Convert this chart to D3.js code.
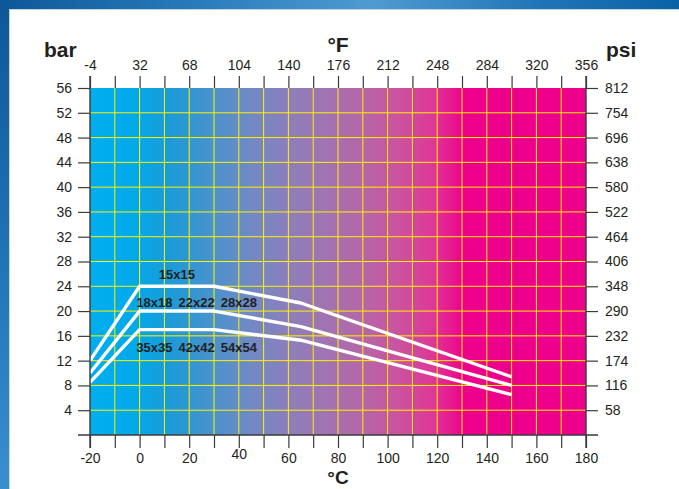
<!DOCTYPE html>
<html>
<head>
<meta charset="utf-8">
<script src="https://cdn.jsdelivr.net/npm/d3@7"></script>
<style>
  html, body { margin: 0; padding: 0; background: #fff; }
  svg { display: block; }
  text { font-family: "Liberation Sans", Arial, Helvetica, sans-serif; fill: #231f20; }
</style>
</head>
<body>
<svg id="chart" width="679" height="489"></svg>
<script>
// ---- data ----
const barTicks = [4, 8, 12, 16, 20, 24, 28, 32, 36, 40, 44, 48, 52, 56];
const psiTicks = [58, 116, 174, 232, 290, 348, 406, 464, 522, 580, 638, 696, 754, 812];
const celsiusTicks = [-20, -10, 0, 10, 20, 30, 40, 50, 60, 70, 80, 90, 100, 110, 120, 130, 140, 150, 160, 170, 180];
const celsiusLabels = [-20, 0, 20, 40, 60, 80, 100, 120, 140, 160, 180];
const fahrenheitTicks = [-4, 14, 32, 50, 68, 86, 104, 122, 140, 158, 176, 194, 212, 230, 248, 266, 284, 302, 320, 338, 356];
const fahrenheitLabels = [-4, 32, 68, 104, 140, 176, 212, 248, 284, 320, 356];

// curve temperatures (°C) and pressures (bar)
const curveTemps = [-20, 0, 30, 65, 150];
const curve15 = [12, 24, 24, 21.3, 9.4];
const curve18to28 = [10, 20, 20, 17.5, 8];
const curve35to54 = [8.5, 17, 17, 15.3, 6.5];

// size labels (°C, bar)
const labelTexts = ["15x15", "18x18", "22x22", "28x28", "35x35", "42x42", "54x54"];
const labelTemps = [15, 6, 23, 40, 6, 23, 40];
const labelBars = [25.2, 20.7, 20.7, 20.7, 13.4, 13.4, 13.4];

// ---- layout ----
const svg = d3.select("#chart");
const W = 679, H = 489;
const x = d3.scaleLinear().domain([-20, 180]).range([90, 586]);
const y = d3.scaleLinear().domain([0, 56]).range([435, 88]);
const xF = d3.scaleLinear().domain([-4, 356]).range([90, 586]);
const yP = d3.scaleLinear().domain([0, 812]).range([435, 88]);

const defs = svg.append("defs");
// frame gradients
const gTop = defs.append("linearGradient").attr("id", "frameTop").attr("x1", 0).attr("x2", 1).attr("y1", 0).attr("y2", 0);
[[0, "#0d5799"], [0.3, "#2a7dbd"], [0.55, "#4f9bd1"], [0.8, "#1f74b6"], [1, "#0a62a6"]]
  .forEach(([o, c]) => gTop.append("stop").attr("offset", o).attr("stop-color", c));
const gLeft = defs.append("linearGradient").attr("id", "frameLeft").attr("x1", 0).attr("x2", 0).attr("y1", 0).attr("y2", 1);
[[0, "#0d5799"], [0.5, "#1f72b4"], [1, "#3a8fcf"]]
  .forEach(([o, c]) => gLeft.append("stop").attr("offset", o).attr("stop-color", c));

// plot gradient (cyan -> magenta)
const gPlot = defs.append("linearGradient").attr("id", "plotGrad")
  .attr("gradientUnits", "userSpaceOnUse")
  .attr("x1", x(-20)).attr("x2", x(180)).attr("y1", 0).attr("y2", 0);
const stops = [[-20, "#00aeef"], [-2, "#02a9e9"], [12, "#1a9bd8"], [28, "#4693cd"], [45, "#7189c5"],
  [60, "#8b7fbc"], [75, "#a074b1"], [90, "#b566a8"], [105, "#cb529f"], [118, "#dd3896"], [126, "#e8178f"], [131, "#ec008c"], [180, "#ec008c"]];
stops.forEach(([t, c]) => gPlot.append("stop").attr("offset", (t + 20) / 200).attr("stop-color", c));

// frame
svg.append("rect").attr("x", 0).attr("y", 0).attr("width", W).attr("height", H).attr("fill", "url(#frameLeft)");
svg.append("rect").attr("x", 0).attr("y", 0).attr("width", W).attr("height", 9).attr("fill", "url(#frameTop)");
svg.append("rect").attr("x", 9).attr("y", 9).attr("width", W - 9).attr("height", H - 9).attr("fill", "#ffffff");
svg.append("line").attr("x1", 9.5).attr("x2", 9.5).attr("y1", 9).attr("y2", H).attr("stroke", "#c9d3dc").attr("stroke-width", 1);
svg.append("line").attr("x1", 9).attr("x2", W).attr("y1", 9.5).attr("y2", 9.5).attr("stroke", "#c9d3dc").attr("stroke-width", 1);

// plot background
svg.append("rect").attr("x", x(-20)).attr("y", y(56)).attr("width", x(180) - x(-20)).attr("height", y(0) - y(56))
  .attr("fill", "url(#plotGrad)");

// grid
const grid = svg.append("g").attr("stroke", "#fff200").attr("stroke-width", 1);
grid.selectAll("line.v").data(celsiusTicks.filter(t => t > -20 && t < 180)).enter().append("line")
  .attr("x1", d => x(d)).attr("x2", d => x(d)).attr("y1", y(56)).attr("y2", y(0));
grid.selectAll("line.h").data(barTicks.filter(b => b < 56)).enter().append("line")
  .attr("x1", x(-20)).attr("x2", x(180)).attr("y1", d => y(d)).attr("y2", d => y(d));

// curves
const line = d3.line().x(d => x(d[0])).y(d => y(d[1]));
[curve15, curve18to28, curve35to54].forEach(vals => {
  svg.append("path").datum(curveTemps.map((t, i) => [t, vals[i]]))
    .attr("d", line).attr("fill", "none").attr("stroke", "#ffffff").attr("stroke-width", 3.4)
    .attr("stroke-linejoin", "round");
});

// size labels
svg.append("g").selectAll("text").data(labelTexts).enter().append("text")
  .attr("x", (d, i) => x(labelTemps[i])).attr("y", (d, i) => y(labelBars[i]))
  .attr("text-anchor", "middle").attr("font-weight", "bold").attr("font-size", "13px")
  .text(d => d);

// axes
const axisColor = "#3a3a3a";
function styleAxis(g) {
  g.select(".domain").remove();
  g.selectAll(".tick line").attr("stroke", axisColor).attr("stroke-width", 1.2);
  g.selectAll(".tick text").attr("font-family", "'Liberation Sans', Arial, sans-serif").attr("font-size", "14px").attr("fill", "#231f20");
}
svg.append("g").attr("transform", `translate(${x(-20)},0)`)
  .call(d3.axisLeft(y).tickValues(barTicks).tickSize(12).tickPadding(6))
  .call(styleAxis);
svg.append("g").attr("transform", `translate(${x(180)},0)`)
  .call(d3.axisRight(yP).tickValues(psiTicks).tickSize(12).tickPadding(7))
  .call(styleAxis);
svg.append("g").attr("transform", `translate(0,${y(0)})`)
  .call(d3.axisBottom(x).tickValues(celsiusTicks).tickSize(13).tickPadding(5)
    .tickFormat(d => celsiusLabels.includes(d) ? String(d) : ""))
  .call(styleAxis)
  .call(g => g.selectAll(".tick text").filter(d => d === 40).attr("dy", "0.4em"));
svg.append("g").attr("transform", `translate(0,${y(56)})`)
  .call(d3.axisTop(xF).tickValues(fahrenheitTicks).tickSize(12).tickPadding(6)
    .tickFormat(d => fahrenheitLabels.includes(d) ? String(d) : ""))
  .call(styleAxis);

// axis frame lines
svg.append("line").attr("x1", x(-20)).attr("x2", x(-20)).attr("y1", y(56) - 12).attr("y2", y(0) + 13)
  .attr("stroke", axisColor).attr("stroke-width", 1.4);
svg.append("line").attr("x1", x(180)).attr("x2", x(180)).attr("y1", y(56) - 12).attr("y2", y(0) + 13)
  .attr("stroke", axisColor).attr("stroke-width", 1.4);
svg.append("line").attr("x1", x(-20) - 12).attr("x2", x(180) + 12).attr("y1", y(0)).attr("y2", y(0))
  .attr("stroke", axisColor).attr("stroke-width", 1.4);

// titles
const title = (t, xx, yy, anchor, fs) => svg.append("text").attr("x", xx).attr("y", yy)
  .attr("text-anchor", anchor).attr("font-weight", "bold").attr("font-size", fs || "21px").text(t);
title("bar", 44, 57, "start");
title("psi", 606, 57, "start");
title("°F", x(80), 52, "middle");
title("°C", x(80), 484, "middle", "19px");
</script>
</body>
</html>
